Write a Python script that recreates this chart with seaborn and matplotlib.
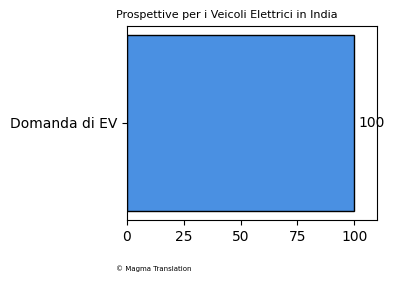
import matplotlib
matplotlib.use("Agg")
import matplotlib.pyplot as plt
import seaborn as sns
import pandas as pd

categories = ["Domanda di EV"]
values = [100]

df = pd.DataFrame({"cat": categories, "val": values})

fig = plt.figure(figsize=(3.95, 2.82), dpi=100)
ax = fig.add_axes([0.3215, 0.2199, 0.6330, 0.6879])
sns.barplot(data=df, x="val", y="cat", orient="h", color="#4a90e2",
            edgecolor="black", linewidth=1, saturation=1, width=0.8, ax=ax)
ax.set_ylim(0.44, -0.44)
ax.set_xlim(0, 110)
ax.set_xticks([0, 25, 50, 75, 100])
ax.set_xlabel("")
ax.set_ylabel("")
for i, v in enumerate(values):
    ax.text(v + 1.8, i, str(v), va="center", ha="left", fontsize=10)
ax.set_title("Prospettive per i Veicoli Elettrici in India", fontsize=8, x=0.4)
fig.text(0.293, 0.039, "© Magma Translation", fontsize=5)
fig.savefig("out.png", dpi=100)
